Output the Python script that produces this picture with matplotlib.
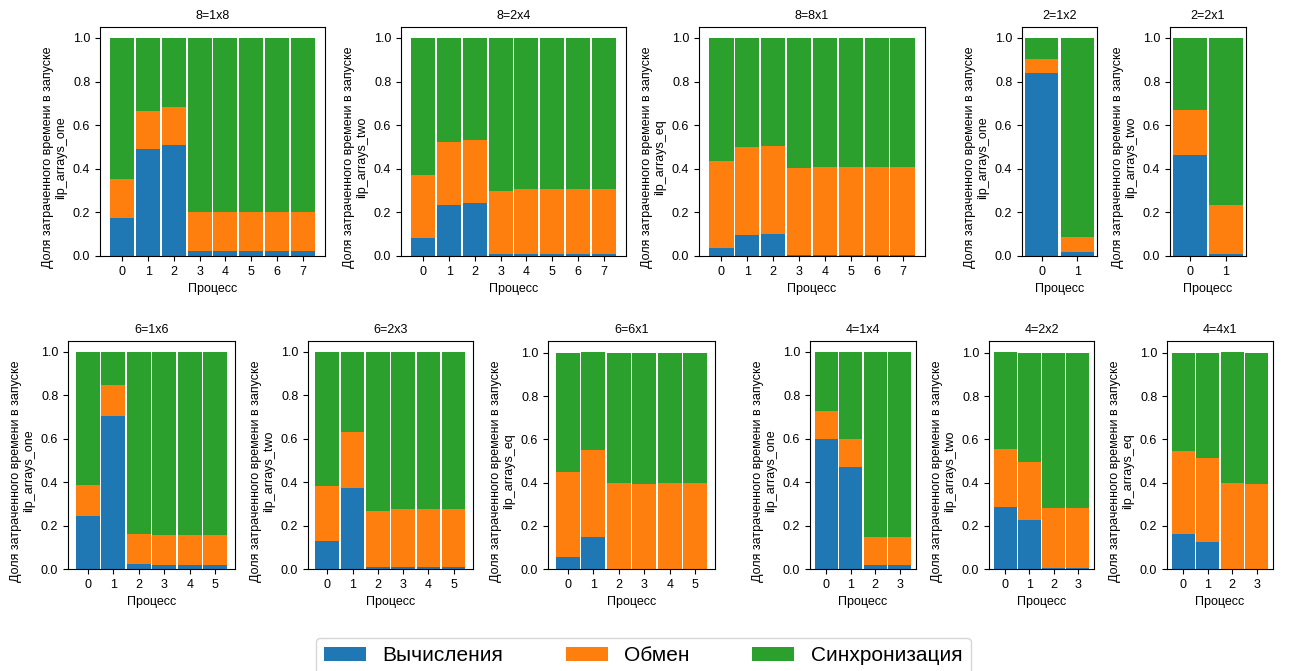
"""
Доли времени (вычисления / обмен / синхронизация) по процессам
для разных решёток процессов и вариантов ilp_arrays.
"""

import matplotlib

matplotlib.use("Agg")

import matplotlib.pyplot as plt
import numpy as np

plt.rcParams["font.family"] = ["Liberation Sans", "DejaVu Sans"]

# ----------------------------------------------------------------------
# Данные: доли времени по процессам
# ----------------------------------------------------------------------

TITLES = ["8=1x8", "8=2x4", "8=8x1", "2=1x2", "2=2x1",
          "6=1x6", "6=2x3", "6=6x1", "4=1x4", "4=2x2", "4=4x1"]
RUNS = ["ilp_arrays_one", "ilp_arrays_two", "ilp_arrays_eq", "ilp_arrays_one", "ilp_arrays_two",
        "ilp_arrays_one", "ilp_arrays_two", "ilp_arrays_eq", "ilp_arrays_one", "ilp_arrays_two",
        "ilp_arrays_eq"]
LABELS = ["Вычисления", "Обмен", "Синхронизация"]

comp_8_1x8 = [0.176, 0.489, 0.507, 0.025, 0.025, 0.025, 0.025, 0.025]
exch_8_1x8 = [0.178, 0.177, 0.178, 0.177, 0.177, 0.177, 0.177, 0.177]
sync_8_1x8 = [0.646, 0.334, 0.315, 0.798, 0.798, 0.798, 0.798, 0.798]

comp_8_2x4 = [0.084, 0.234, 0.243, 0.009, 0.009, 0.009, 0.009, 0.009]
exch_8_2x4 = [0.288, 0.290, 0.290, 0.290, 0.299, 0.299, 0.299, 0.299]
sync_8_2x4 = [0.628, 0.476, 0.467, 0.701, 0.692, 0.692, 0.692, 0.692]

comp_8_8x1 = [0.037, 0.096, 0.101, 0.004, 0.004, 0.004, 0.004, 0.004]
exch_8_8x1 = [0.399, 0.405, 0.404, 0.400, 0.405, 0.405, 0.405, 0.405]
sync_8_8x1 = [0.564, 0.499, 0.495, 0.596, 0.591, 0.591, 0.591, 0.591]

comp_2_1x2 = [0.838, 0.018]
exch_2_1x2 = [0.067, 0.069]
sync_2_1x2 = [0.095, 0.913]

comp_2_2x1 = [0.461, 0.009]
exch_2_2x1 = [0.210, 0.225]
sync_2_2x1 = [0.329, 0.766]

comp_6_1x6 = [0.245, 0.706, 0.025, 0.020, 0.020, 0.020]
exch_6_1x6 = [0.143, 0.142, 0.138, 0.138, 0.138, 0.138]
sync_6_1x6 = [0.612, 0.152, 0.837, 0.842, 0.842, 0.842]

comp_6_2x3 = [0.127, 0.374, 0.011, 0.011, 0.011, 0.011]
exch_6_2x3 = [0.256, 0.258, 0.257, 0.267, 0.267, 0.267]
sync_6_2x3 = [0.617, 0.368, 0.732, 0.722, 0.722, 0.722]

comp_6_6x1 = [0.054, 0.149, 0.0, 0.0, 0.0, 0.0]
exch_6_6x1 = [0.394, 0.400, 0.397, 0.393, 0.397, 0.397]
sync_6_6x1 = [0.552, 0.456, 0.603, 0.607, 0.603, 0.603]

comp_4_1x4 = [0.600, 0.471, 0.020, 0.020]
exch_4_1x4 = [0.129, 0.129, 0.129, 0.129]
sync_4_1x4 = [0.271, 0.400, 0.851, 0.851]

comp_4_2x2 = [0.287, 0.227, 0.006, 0.006]
exch_4_2x2 = [0.267, 0.267, 0.276, 0.276]
sync_4_2x2 = [0.451, 0.506, 0.718, 0.718]

comp_4_4x1 = [0.163, 0.126, 0.0, 0.0]
exch_4_4x1 = [0.381, 0.386, 0.397, 0.393]
sync_4_4x1 = [0.456, 0.488, 0.608, 0.607]

PANELS = [
    (comp_8_1x8, exch_8_1x8, sync_8_1x8),
    (comp_8_2x4, exch_8_2x4, sync_8_2x4),
    (comp_8_8x1, exch_8_8x1, sync_8_8x1),
    (comp_2_1x2, exch_2_1x2, sync_2_1x2),
    (comp_2_2x1, exch_2_2x1, sync_2_2x1),
    (comp_6_1x6, exch_6_1x6, sync_6_1x6),
    (comp_6_2x3, exch_6_2x3, sync_6_2x3),
    (comp_6_6x1, exch_6_6x1, sync_6_6x1),
    (comp_4_1x4, exch_4_1x4, sync_4_1x4),
    (comp_4_2x2, exch_4_2x2, sync_4_2x2),
    (comp_4_4x1, exch_4_4x1, sync_4_4x1),
]

COLORS = ["#1f77b4", "#ff7f0e", "#2ca02c"]

# ----------------------------------------------------------------------
# Раскладка осей (в пикселях: left, top, width, height)
# ----------------------------------------------------------------------

W, H = 1289, 671
BOXES = [
    (100, 27, 225, 229), (401, 27, 225, 229), (699, 27, 226, 229),
    (1022, 27, 75, 229), (1170, 27, 76, 229),
    (68, 341, 167, 228), (308, 341, 165, 228), (548, 341, 167, 228),
    (810, 341, 106, 228), (989, 341, 105, 228), (1167, 341, 106, 228),
]
FS = 9


def plot_panel(ax, parts, title, run):
    """Один stacked bar по процессам."""
    x = np.arange(len(parts[0]))
    bottom = np.zeros(len(x))
    handles = []
    for vals, color, label in zip(parts, COLORS, LABELS):
        vals = np.asarray(vals)
        h = ax.bar(x, vals, width=0.94, bottom=bottom, color=color, label=label)
        handles.append(h)
        bottom = bottom + vals

    ax.set_xticks(x)
    ax.set_title(title, fontsize=FS)
    ax.set_xlabel("Процесс", fontsize=FS)
    ax.set_ylabel(f"Доля затраченного времени в запуске\n{run}", fontsize=FS)
    # подпись по y в оригинале чуть ниже центра оси
    ax.yaxis.label.set_y(0.43)
    ax.tick_params(labelsize=FS)
    return handles


fig = plt.figure(figsize=(W / 100, H / 100), dpi=100)

handles = None
for parts, title, run, (l, t, w, h) in zip(PANELS, TITLES, RUNS, BOXES):
    ax = fig.add_axes([l / W, 1 - (t + h) / H, w / W, h / H])
    handles = plot_panel(ax, parts, title, run)

fig.legend(
    handles,
    LABELS,
    loc="upper center",
    bbox_to_anchor=(0.499, 0.049),
    borderaxespad=0,
    ncol=3,
    fontsize=15,
    columnspacing=3.0,
)

fig.savefig("out.png", dpi=100)
